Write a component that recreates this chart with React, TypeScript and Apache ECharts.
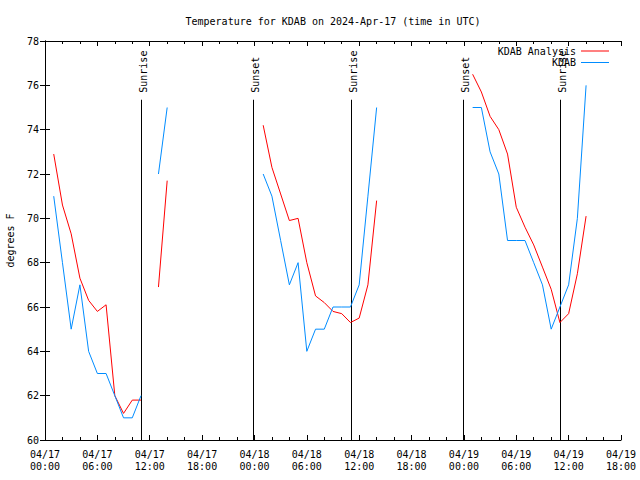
import React, { useEffect, useRef } from "react";
import * as echarts from "echarts";

const titleText = "Temperature for KDAB on 2024-Apr-17 (time in UTC)";
const yAxisName = "degrees F";
const seriesNames = ["KDAB Analysis", "KDAB"];

// hours since 2024-04-17 00:00 UTC (null values break the line)
const hoursSinceStart = [
  1, 2, 3, 4, 5, 6, 7, 8, 9, 10, 11, 12, 13, 14, 15,
  25, 26, 27, 28, 29, 30, 31, 32, 33, 34, 35, 36, 37, 38, 39,
  49, 50, 51, 52, 53, 54, 55, 56, 57, 58, 59, 60, 61, 62,
];

const analysisTemps = [
  72.9, 70.6, 69.3, 67.3, 66.3, 65.8, 66.1, 62.0, 61.2, 61.8, 61.8, null, 66.9, 71.7, null,
  74.2, 72.3, 71.1, 69.9, 70.0, 68.0, 66.5, 66.2, 65.8, 65.7, 65.3, 65.5, 67.0, 70.8, null,
  76.5, 75.7, 74.6, 74.0, 72.9, 70.5, 69.6, 68.8, 67.8, 66.8, 65.3, 65.7, 67.5, 70.1,
];

const observedTemps = [
  71, 68, 65, 67, 64, 63, 63, 62, 61, 61, 62, null, 72, 75, null,
  72, 71, 69, 67, 68, 64, 65, 65, 66, 66, 66, 67, 71, 75, null,
  75, 75, 73, 72, 69, 69, 69, 68, 67, 65, 66, 67, 70, 76,
];

const sunEventHours = [11.05, 23.85, 35.05, 47.85, 59.03];
const sunEventNames = ["Sunrise", "Sunset", "Sunrise", "Sunset", "Sunrise"];

const xMin = 0;
const xMax = 66;
const xStep = 6;
const yMin = 60;
const yMax = 78;
const yStep = 2;

const FONT_FAMILY = "DejaVu Sans Mono";
const FONT = "10px 'DejaVu Sans Mono'";
const SUN_LINE_TOP = 75.35;

function xLabel(v: number): string {
  const day = 17 + Math.floor(v / 24);
  const hr = v % 24;
  return `04/${day}\n${String(hr).padStart(2, "0")}:00`;
}

export default function App() {
  const ref = useRef<HTMLDivElement>(null);

  useEffect(() => {
    if (!ref.current) return;
    const chart = echarts.init(ref.current, undefined, { renderer: "svg" });

    const analysisData = hoursSinceStart.map((h, i) => [h, analysisTemps[i]]);
    const observedData = hoursSinceStart.map((h, i) => [h, observedTemps[i]]);

    const axisLine = { show: true, lineStyle: { color: "#000", width: 1 } };

    const option: any = {
      animation: false,
      backgroundColor: "#fff",
      grid: {
        left: 45,
        right: 19,
        top: 41,
        bottom: 40,
        containLabel: false,
        outerBoundsMode: "none",
      },
      graphic: [
        {
          type: "text",
          x: 333,
          y: 21,
          style: {
            text: titleText,
            align: "center",
            verticalAlign: "middle",
            font: FONT,
            fill: "#000",
          },
        },
      ],
      legend: {
        orient: "vertical",
        align: "right",
        right: 31,
        top: 46,
        icon: "rect",
        itemWidth: 28,
        itemHeight: 1,
        itemGap: 1.5,
        padding: 0,
        textStyle: { fontFamily: FONT_FAMILY, fontSize: 10, color: "#000", lineHeight: 10 },
        data: seriesNames,
      },
      xAxis: [
        {
          type: "value",
          min: xMin,
          max: xMax,
          interval: xStep,
          position: "bottom",
          axisLine,
          axisTick: { show: true, inside: true, length: 5, lineStyle: { color: "#000" } },
          minorTick: { show: true, splitNumber: 3, length: 3, lineStyle: { color: "#000" } },
          splitLine: { show: false },
          axisLabel: {
            show: true,
            margin: 8,
            formatter: xLabel,
            fontFamily: FONT_FAMILY,
            fontSize: 10,
            lineHeight: 12,
            color: "#000",
          },
        },
        {
          type: "value",
          min: xMin,
          max: xMax,
          interval: xStep,
          position: "top",
          axisLine,
          axisTick: { show: true, inside: true, length: 5, lineStyle: { color: "#000" } },
          minorTick: { show: true, splitNumber: 3, length: 3, lineStyle: { color: "#000" } },
          splitLine: { show: false },
          axisLabel: { show: false },
        },
      ],
      yAxis: [
        {
          type: "value",
          min: yMin,
          max: yMax,
          interval: yStep,
          position: "left",
          name: yAxisName,
          nameLocation: "middle",
          nameRotate: 90,
          nameGap: 30,
          nameTextStyle: { fontFamily: FONT_FAMILY, fontSize: 10, color: "#000" },
          axisLine,
          axisTick: { show: true, inside: true, length: 5, lineStyle: { color: "#000" } },
          splitLine: { show: false },
          axisLabel: { margin: 6, fontFamily: FONT_FAMILY, fontSize: 10, color: "#000" },
        },
        {
          type: "value",
          min: yMin,
          max: yMax,
          interval: yStep,
          position: "right",
          axisLine,
          axisTick: { show: true, inside: true, length: 5, lineStyle: { color: "#000" } },
          splitLine: { show: false },
          axisLabel: { show: false },
        },
      ],
      series: [
        {
          name: "sun",
          type: "custom",
          xAxisIndex: 0,
          yAxisIndex: 0,
          silent: true,
          data: sunEventHours.map((h) => [h, yMin]),
          renderItem: (params: any, api: any) => {
            const t = api.value(0);
            const bottom = api.coord([t, yMin]);
            const top = api.coord([t, SUN_LINE_TOP]);
            const x = Math.round(bottom[0]) + 0.5;
            return {
              type: "group",
              children: [
                {
                  type: "line",
                  shape: { x1: x, y1: bottom[1], x2: x, y2: top[1] },
                  style: { stroke: "#000", lineWidth: 1 },
                },
                {
                  type: "text",
                  x: x + 1.5,
                  y: top[1] - 7,
                  rotation: Math.PI / 2,
                  style: {
                    text: sunEventNames[params.dataIndex],
                    align: "left",
                    verticalAlign: "middle",
                    font: FONT,
                    fill: "#000",
                  },
                },
              ],
            };
          },
        },
        {
          name: seriesNames[0],
          type: "line",
          xAxisIndex: 0,
          yAxisIndex: 0,
          data: analysisData,
          symbol: "none",
          connectNulls: false,
          lineStyle: { color: "#ff0000", width: 1 },
          itemStyle: { color: "#ff0000" },
        },
        {
          name: seriesNames[1],
          type: "line",
          xAxisIndex: 0,
          yAxisIndex: 0,
          data: observedData,
          symbol: "none",
          connectNulls: false,
          lineStyle: { color: "#008cff", width: 1 },
          itemStyle: { color: "#008cff" },
        },
      ],
    };

    chart.setOption(option);
    return () => chart.dispose();
  }, []);

  return (
    <div
      ref={ref}
      style={{ position: "fixed", left: 0, top: 0, width: 640, height: 480, background: "#fff" }}
    />
  );
}
